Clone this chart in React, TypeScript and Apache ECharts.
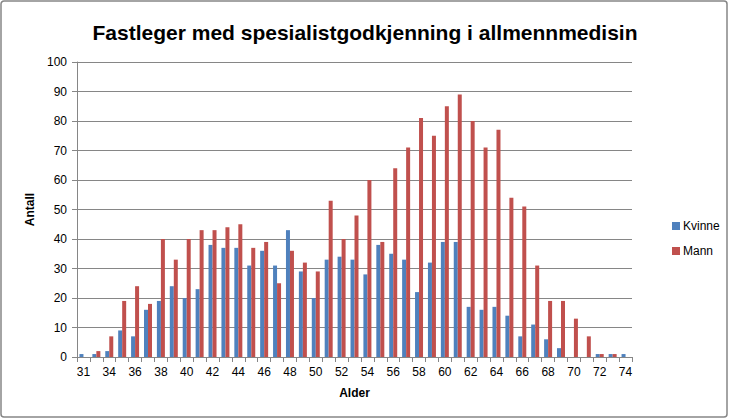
import React, { useEffect, useRef } from "react";
import * as echarts from "echarts";

const ages = ["31", "33", "34", "35", "36", "37", "38", "39", "40", "41", "42", "43", "44", "45", "46", "47", "48", "49", "50", "51", "52", "53", "54", "55", "56", "57", "58", "59", "60", "61", "62", "63", "64", "65", "66", "67", "68", "69", "70", "71", "72", "73", "74"];
const kvinne = [1, 1, 2, 9, 7, 16, 19, 24, 20, 23, 38, 37, 37, 31, 36, 31, 43, 29, 20, 33, 34, 33, 28, 38, 35, 33, 22, 32, 39, 39, 17, 16, 17, 14, 7, 11, 6, 3, 0, 0, 1, 1, 1];
const mann = [0, 2, 7, 19, 24, 18, 40, 33, 40, 43, 43, 44, 45, 37, 39, 25, 36, 32, 29, 53, 40, 48, 60, 39, 64, 71, 81, 75, 85, 89, 80, 71, 77, 54, 51, 31, 19, 19, 13, 7, 1, 1, 0];
const yTicks = { min: 0, max: 100, interval: 10 };

const FONT = "'Liberation Sans', Arial, sans-serif";

export default function App() {
  const ref = useRef<HTMLDivElement>(null);
  useEffect(() => {
    if (!ref.current) return;
    const chart = echarts.init(ref.current, null, { renderer: "svg" });
    chart.setOption({
      animation: false,
      backgroundColor: "#ffffff",
      textStyle: { fontFamily: FONT },
      title: {
        text: "Fastleger med spesialistgodkjenning i allmennmedisin",
        left: "center",
        top: 17,
        textStyle: { fontFamily: FONT, fontWeight: "bold", fontSize: 21, color: "#000" },
      },
      graphic: [
        {
          type: "rect",
          shape: { x: 1, y: 1, width: 726, height: 416, r: 3 },
          style: { fill: "none", stroke: "#868686", lineWidth: 1.5 },
          silent: true,
        },
      ],
      legend: {
        orient: "vertical",
        left: 667,
        top: 215,
        itemWidth: 8,
        itemHeight: 8,
        itemGap: 13,
        icon: "rect",
        textStyle: { fontFamily: FONT, fontSize: 12, color: "#000", padding: [0, 0, 0, -2] },
        data: ["Kvinne", "Mann"],
      },
      grid: { left: 77, top: 62, width: 555, height: 295, containLabel: false },
      xAxis: {
        type: "category",
        data: ages,
        name: "Alder",
        nameLocation: "middle",
        nameGap: 30,
        nameTextStyle: { fontFamily: FONT, fontWeight: "bold", fontSize: 12, color: "#000" },
        axisLine: { lineStyle: { color: "#868686" } },
        axisTick: { show: true, interval: 0, length: 5, lineStyle: { color: "#868686" } },
        axisLabel: { interval: 1, fontSize: 12, color: "#000", margin: 9, fontFamily: FONT },
        splitLine: { show: false },
      },
      yAxis: {
        type: "value",
        min: yTicks.min,
        max: yTicks.max,
        interval: yTicks.interval,
        name: "Antall",
        nameLocation: "middle",
        nameGap: 38,
        nameRotate: 90,
        nameTextStyle: { fontFamily: FONT, fontWeight: "bold", fontSize: 12, color: "#000" },
        axisLine: { show: true, lineStyle: { color: "#868686" } },
        axisTick: { show: true, length: 5, lineStyle: { color: "#868686" } },
        axisLabel: { fontSize: 12, color: "#000", margin: 10, fontFamily: FONT },
        splitLine: { lineStyle: { color: "#868686", width: 1 } },
      },
      series: [
        {
          name: "Kvinne",
          type: "bar",
          data: kvinne,
          barWidth: 4,
          barGap: "0%",
          itemStyle: { color: "#4F81BD" },
        },
        {
          name: "Mann",
          type: "bar",
          data: mann,
          barWidth: 4,
          barGap: "0%",
          itemStyle: { color: "#C0504D" },
        },
      ],
    });
    return () => chart.dispose();
  }, []);
  return (
    <div
      ref={ref}
      style={{ position: "fixed", left: 0, top: 0, width: 730, height: 419 }}
    />
  );
}
